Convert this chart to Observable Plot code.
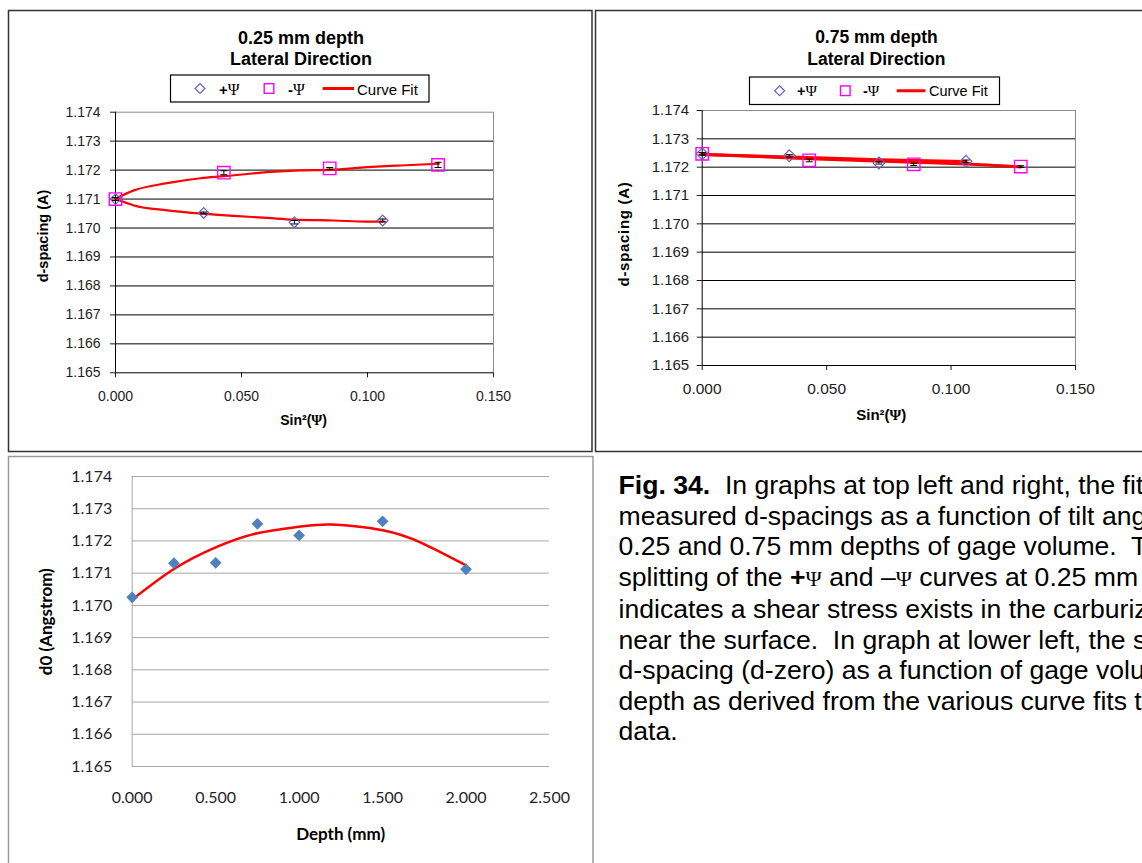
<!DOCTYPE html>
<html>
<head>
<meta charset="utf-8">
<script src="https://cdn.jsdelivr.net/npm/d3@7"></script>
<script src="https://cdn.jsdelivr.net/npm/@observablehq/plot@0.6"></script>
<style>
html,body{margin:0;padding:0;background:#fff;}
#page{position:relative;width:1142px;height:863px;overflow:hidden;background:#fff;}
#page svg.layer{position:absolute;left:0;top:0;}
#caption{position:absolute;left:618.5px;top:470.4px;font-family:"Liberation Sans",Arial,sans-serif;font-size:26.6px;line-height:30.5px;color:#000;white-space:nowrap;}
#caption .psi{font-family:"Liberation Serif","Times New Roman",serif;font-size:22px;}
</style>
</head>
<body>
<div id="page">
  <div id="caption">
    <div><b>Fig. 34.</b>&nbsp; In graphs at top left and right, the fit</div>
    <div>measured d-spacings as a function of tilt ang</div>
    <div>0.25 and 0.75 mm depths of gage volume.&nbsp; T</div>
    <div>splitting of the <b>+</b><span class="psi">Ψ</span> and –<span class="psi">Ψ</span> curves at 0.25 mm</div>
    <div>indicates a shear stress exists in the carburiz</div>
    <div>near the surface.&nbsp; In graph at lower left, the s</div>
    <div>d-spacing (d-zero) as a function of gage volu</div>
    <div>depth as derived from the various curve fits t</div>
    <div>data.</div>
  </div>
</div>
<script>
// ---------------- DATA ----------------
const yTicks = [1.165, 1.166, 1.167, 1.168, 1.169, 1.170, 1.171, 1.172, 1.173, 1.174];
const xTicksSin = [0, 0.05, 0.10, 0.15];
const xTicksDepth = [0, 0.5, 1.0, 1.5, 2.0, 2.5];

// Panel 1: 0.25 mm depth
const p1PlusX   = [0.000, 0.035, 0.071, 0.106];
const p1PlusD   = [1.1710, 1.17052, 1.17020, 1.17026];
const p1PlusErr = [0.00005, 0.00003, 0.00006, 0.00005];
const p1MinusX   = [0.000, 0.043, 0.085, 0.128];
const p1MinusD   = [1.1710, 1.17191, 1.17206, 1.17218];
const p1MinusErr = [0.00005, 0.00007, 0.00003, 0.00009];
const p1FitMinusX = [0.000, 0.0073, 0.0205, 0.0337, 0.0433, 0.0602, 0.0734, 0.0853, 0.0999, 0.1131, 0.1283];
const p1FitMinusD = [1.17101, 1.17130, 1.17155, 1.17172, 1.17179, 1.17193, 1.17199, 1.17201, 1.17210, 1.17216, 1.17222];
const p1FitPlusX = [0.000, 0.0073, 0.0205, 0.0353, 0.0469, 0.0602, 0.0708, 0.0866, 0.0999, 0.1065];
const p1FitPlusD = [1.17101, 1.17078, 1.17061, 1.17049, 1.17042, 1.17035, 1.17029, 1.17026, 1.17022, 1.17023];

// Panel 2: 0.75 mm depth
const p2PlusX   = [0.000, 0.035, 0.071, 0.106];
const p2PlusD   = [1.17247, 1.17240, 1.17215, 1.17221];
const p2PlusErr = [0.00004, 0.00004, 0.00004, 0.00004];
const p2MinusX   = [0.000, 0.043, 0.085, 0.128];
const p2MinusD   = [1.17247, 1.17224, 1.17210, 1.17202];
const p2MinusErr = [0.00004, 0.00005, 0.00004, 0.00003];
const p2FitPlusX = [0.000, 0.035, 0.071, 0.106];
const p2FitPlusD = [1.17245, 1.17236, 1.17226, 1.17220];
const p2FitMinusX = [0.000, 0.043, 0.085, 0.106, 0.128];
const p2FitMinusD = [1.17245, 1.17230, 1.17217, 1.17211, 1.17201];

// Panel 3: d0 vs depth
const depthX = [0.00, 0.25, 0.50, 0.75, 1.00, 1.50, 2.00];
const d0Y    = [1.17025, 1.17131, 1.17132, 1.17253, 1.17217, 1.17261, 1.17112];
const d0FitX = [0.000, 0.250, 0.500, 0.750, 1.000, 1.200, 1.500, 1.733, 2.000];
const d0FitY = [1.17018, 1.17113, 1.17180, 1.17224, 1.17244, 1.17251, 1.17233, 1.17194, 1.17124];

// ---------------- HELPERS ----------------
const W = 1142, H = 863;
const fmt3 = d3.format(".3f");
const rows = (xs, ys, extra = {}) => xs.map((x, i) => ({x, y: ys[i], ...Object.fromEntries(Object.entries(extra).map(([k, v]) => [k, v[i]]))}));
function errMarks(data, dx) {
  return [
    Plot.ruleX(data, {x: "x", y1: d => d.y - d.e, y2: d => d.y + d.e, stroke: "#000", strokeWidth: 1}),
    Plot.link(data, {x1: d => d.x - dx, x2: d => d.x + dx, y1: d => d.y - d.e, y2: d => d.y - d.e, stroke: "#000", strokeWidth: 1}),
    Plot.link(data, {x1: d => d.x - dx, x2: d => d.x + dx, y1: d => d.y + d.e, y2: d => d.y + d.e, stroke: "#000", strokeWidth: 1})
  ];
}
const page = document.getElementById("page");
function add(svg) { svg.classList.add("layer"); page.appendChild(svg); }

// ---------------- PANEL 1 ----------------
{
  const fit = [
    ...rows(p1FitMinusX, p1FitMinusD).map(d => ({...d, s: "minus"})),
    ...rows(p1FitPlusX, p1FitPlusD).map(d => ({...d, s: "plus"}))
  ];
  const plus = rows(p1PlusX, p1PlusD, {e: p1PlusErr});
  const minus = rows(p1MinusX, p1MinusD, {e: p1MinusErr});
  add(Plot.plot({
    width: W, height: H,
    marginLeft: 115, marginRight: W - 493, marginTop: 111.7, marginBottom: H - 372.3,
    style: {background: "transparent", overflow: "visible", color: "#1c1c24", fontFamily: "'Liberation Sans', Arial, sans-serif"},
    x: {domain: [0, 0.15]},
    y: {domain: [1.165, 1.174]},
    marks: [
      Plot.ruleY(yTicks.slice(1, -1), {stroke: "#000", strokeWidth: 1}),
      Plot.ruleY([1.174], {stroke: "#8c8c8c", strokeWidth: 1}),
      Plot.ruleX([0.15], {stroke: "#8c8c8c", strokeWidth: 1}),
      Plot.axisY({ticks: yTicks, tickFormat: fmt3, tickSize: 5, tickPadding: 10, label: null, fontSize: 14}),
      Plot.axisX({ticks: xTicksSin, tickFormat: fmt3, tickSize: 5, tickPadding: 13, label: null, fontSize: 14}),
      Plot.ruleX([0], {stroke: "#000", strokeWidth: 1}),
      Plot.ruleY([1.165], {stroke: "#000", strokeWidth: 1}),
      Plot.line(fit, {x: "x", y: "y", z: "s", stroke: "#ff0000", strokeWidth: 2.2, curve: "monotone-x"}),
      Plot.dot(plus, {x: "x", y: "y", symbol: "diamond2", r: 4.8, stroke: "#6a5fc8", fill: "none", strokeWidth: 1.2}),
      Plot.dot(minus, {x: "x", y: "y", symbol: "square", r: 7, stroke: "#ff00ff", fill: "none", strokeWidth: 1.4}),
      ...errMarks(plus, 0.0014),
      ...errMarks(minus, 0.0014)
    ]
  }));
}

// ---------------- PANEL 2 ----------------
{
  const fit = [
    ...rows(p2FitMinusX, p2FitMinusD).map(d => ({...d, s: "minus"})),
    ...rows(p2FitPlusX, p2FitPlusD).map(d => ({...d, s: "plus"}))
  ];
  const plus = rows(p2PlusX, p2PlusD, {e: p2PlusErr});
  const minus = rows(p2MinusX, p2MinusD, {e: p2MinusErr});
  add(Plot.plot({
    width: W, height: H,
    marginLeft: 701.7, marginRight: W - 1075, marginTop: 110, marginBottom: H - 365,
    style: {background: "transparent", overflow: "visible", color: "#1c1c24", fontFamily: "'Liberation Sans', Arial, sans-serif"},
    x: {domain: [0, 0.15]},
    y: {domain: [1.165, 1.174]},
    marks: [
      Plot.ruleY(yTicks.slice(1, -1), {stroke: "#000", strokeWidth: 1}),
      Plot.ruleY([1.174], {stroke: "#8c8c8c", strokeWidth: 1}),
      Plot.ruleX([0.15], {stroke: "#8c8c8c", strokeWidth: 1}),
      Plot.axisY({ticks: yTicks, tickFormat: fmt3, tickSize: 5, tickPadding: 8, label: null, fontSize: 15}),
      Plot.axisX({ticks: xTicksSin, tickFormat: fmt3, tickSize: 5, tickPadding: 12, label: null, fontSize: 15.5}),
      Plot.ruleX([0], {stroke: "#000", strokeWidth: 1}),
      Plot.ruleY([1.165], {stroke: "#000", strokeWidth: 1}),
      Plot.line(fit, {x: "x", y: "y", z: "s", stroke: "#ff0000", strokeWidth: 3, curve: "monotone-x"}),
      Plot.dot(plus, {x: "x", y: "y", symbol: "diamond2", r: 5.3, stroke: "#6a5fc8", fill: "none", strokeWidth: 1.2}),
      Plot.dot(minus, {x: "x", y: "y", symbol: "square", r: 7, stroke: "#ff00ff", fill: "none", strokeWidth: 1.4}),
      ...errMarks(plus, 0.0014),
      ...errMarks(minus, 0.0014)
    ]
  }));
}

// ---------------- PANEL 3 ----------------
{
  const pts = rows(depthX, d0Y);
  const fit = rows(d0FitX, d0FitY);
  add(Plot.plot({
    width: W, height: H,
    marginLeft: 131.7, marginRight: W - 549, marginTop: 476, marginBottom: H - 766,
    style: {background: "transparent", overflow: "visible", color: "#1f1f2a", fontFamily: "Lato, 'Open Sans', sans-serif"},
    x: {domain: [0, 2.5]},
    y: {domain: [1.165, 1.174]},
    marks: [
      Plot.ruleY(yTicks, {stroke: "#a8a8a8", strokeWidth: 1}),
      Plot.ruleX([0], {stroke: "#a8a8a8", strokeWidth: 1}),
      Plot.axisY({ticks: yTicks, tickFormat: fmt3, tickSize: 0, tickPadding: 20, label: null, fontSize: 16}),
      Plot.axisX({ticks: xTicksDepth, tickFormat: fmt3, tickSize: 0, tickPadding: 25, label: null, fontSize: 16}),
      Plot.line(fit, {x: "x", y: "y", stroke: "#ff0000", strokeWidth: 2.5, curve: "natural"}),
      Plot.dot(pts, {x: "x", y: "y", symbol: "diamond2", r: 5.3, fill: "#4f81bd", stroke: "none"})
    ]
  }));
}

// ---------------- OVERLAY: frames, titles, legends, axis labels ----------------
{
  const svg = d3.create("svg").attr("class", "layer").attr("width", W).attr("height", H)
    .style("position", "absolute").style("left", 0).style("top", 0).style("overflow", "visible");
  svg.append("rect").attr("x", 8.5).attr("y", 10.5).attr("width", 583.5).attr("height", 441).attr("fill", "none").attr("stroke", "#333").attr("stroke-width", 1.5);
  svg.append("rect").attr("x", 595.5).attr("y", 10.5).attr("width", 700).attr("height", 441).attr("fill", "none").attr("stroke", "#333").attr("stroke-width", 1.5);
  svg.append("rect").attr("x", 8.5).attr("y", 456.5).attr("width", 584.5).attr("height", 500).attr("fill", "none").attr("stroke", "#9a9a9a").attr("stroke-width", 1.5);

  const sans = "'Liberation Sans', Arial, sans-serif";
  const serif = "'Liberation Serif', 'Times New Roman', serif";
  function title(cx, b1, b2, size, l1, l2) {
    const g = svg.append("g").attr("font-family", sans).attr("font-weight", "bold").attr("font-size", size).attr("text-anchor", "middle").attr("fill", "#000");
    g.append("text").attr("x", cx).attr("y", b1).text(l1);
    g.append("text").attr("x", cx).attr("y", b2).text(l2);
  }
  title(301, 43.5, 65, 18, "0.25 mm depth", "Lateral Direction");
  title(876.4, 43.2, 65, 17.5, "0.75 mm depth", "Lateral Direction");

  function legend(o) {
    const g = svg.append("g");
    g.append("rect").attr("x", o.x).attr("y", o.y).attr("width", o.w).attr("height", o.h).attr("fill", "#fff").attr("stroke", "#000").attr("stroke-width", 1.2);
    const cy = o.y + o.h / 2;
    const r = 5;
    g.append("path").attr("d", `M${o.dx},${cy - r}L${o.dx + r},${cy}L${o.dx},${cy + r}L${o.dx - r},${cy}Z`).attr("fill", "none").attr("stroke", "#6a5fc8").attr("stroke-width", 1.2);
    g.append("rect").attr("x", o.sx - 4.8).attr("y", cy - 4.8).attr("width", 9.6).attr("height", 9.6).attr("fill", "none").attr("stroke", "#ff00ff").attr("stroke-width", 1.4);
    g.append("line").attr("x1", o.l1).attr("x2", o.l2).attr("y1", cy).attr("y2", cy).attr("stroke", "#ff0000").attr("stroke-width", 3);
    const t1 = g.append("text").attr("x", o.t1).attr("y", o.base).attr("font-family", sans).attr("font-size", o.fs).attr("fill", "#000");
    t1.append("tspan").attr("font-weight", "bold").text("+");
    t1.append("tspan").attr("font-family", serif).attr("font-size", o.fs + 1).text("Ψ");
    const t2 = g.append("text").attr("x", o.t2).attr("y", o.base).attr("font-family", sans).attr("font-size", o.fs).attr("fill", "#000");
    t2.append("tspan").attr("font-weight", "bold").text("-");
    t2.append("tspan").attr("font-family", serif).attr("font-size", o.fs + 1).text("Ψ");
    g.append("text").attr("x", o.t3).attr("y", o.base).attr("font-family", sans).attr("font-size", o.fs).attr("fill", "#000").text("Curve Fit");
  }
  legend({x: 170.5, y: 75, w: 258.5, h: 27, dx: 200, sx: 269, l1: 322.6, l2: 354, t1: 219, t2: 288, t3: 357, base: 94.5, fs: 15});
  legend({x: 749.5, y: 77, w: 250, h: 27.5, dx: 779.6, sx: 845.3, l1: 896.7, l2: 925.4, t1: 797, t2: 863, t3: 929, base: 96.3, fs: 14.5});

  function ylabel(x, cy, size, txt, family, spacing) {
    svg.append("text").attr("transform", `translate(${x},${cy}) rotate(-90)`).attr("text-anchor", "middle")
      .attr("font-family", family).attr("font-weight", "bold").attr("font-size", size).attr("letter-spacing", spacing || 0).attr("fill", "#000").text(txt);
  }
  ylabel(48, 236, 14.5, "d-spacing (A)", sans);
  ylabel(628.5, 234, 15, "d-spacing (A)", sans, 0.7);
  ylabel(52, 621.7, 17, "d0 (Angstrom)", "Lato, 'Open Sans', sans-serif");

  function sinLabel(cx, base, size) {
    const t = svg.append("text").attr("x", cx).attr("y", base).attr("text-anchor", "middle").attr("font-family", sans).attr("font-weight", "bold").attr("font-size", size).attr("fill", "#000");
    t.append("tspan").text("Sin²(");
    t.append("tspan").attr("font-family", serif).text("Ψ");
    t.append("tspan").text(")");
  }
  sinLabel(303.6, 424.5, 14);
  sinLabel(881.3, 420, 15);
  svg.append("text").attr("x", 340.6).attr("y", 839.5).attr("text-anchor", "middle").attr("font-family", "Lato, 'Open Sans', sans-serif").attr("font-weight", "bold").attr("font-size", 17).attr("fill", "#000").text("Depth (mm)");

  page.appendChild(svg.node());
}
</script>
</body>
</html>
